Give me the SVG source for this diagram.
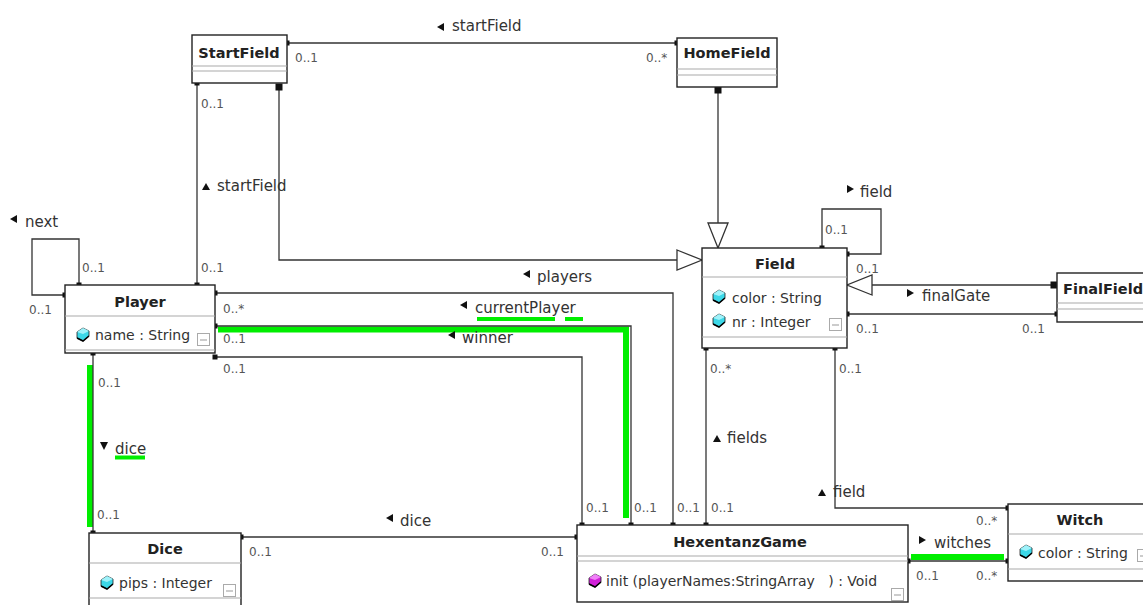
<svg xmlns="http://www.w3.org/2000/svg" xmlns:xlink="http://www.w3.org/1999/xlink" width="1143" height="605" viewBox="0 0 1143 605">
<style>
.box{fill:#fff;stroke:#222;stroke-width:1.4}
.sep{stroke:#aaa;stroke-width:1.2}
.title{font-family:"DejaVu Sans",sans-serif;font-weight:bold;font-size:14.5px;fill:#222;text-anchor:middle}
.attr{font-family:"DejaVu Sans",sans-serif;font-size:14px;fill:#333;white-space:pre}
.mult{font-family:"DejaVu Sans",sans-serif;font-size:12px;fill:#555}
.lbl{font-family:"DejaVu Sans",sans-serif;font-size:15px;fill:#333}
.line{fill:none;stroke:#333;stroke-width:1.3}
.hl{fill:none;stroke:#00ee00;stroke-width:6}
.ul{fill:none;stroke:#00ee00;stroke-width:4}
.ar{fill:#111}
.col{fill:#fff;stroke:#aaa;stroke-width:1}
</style>
<defs>
<marker id="dot" markerUnits="userSpaceOnUse" markerWidth="6" markerHeight="6" refX="3" refY="3"><rect x="0.5" y="0.5" width="5" height="5" fill="#111"/></marker>
<marker id="sq" markerUnits="userSpaceOnUse" markerWidth="8" markerHeight="8" refX="4" refY="4"><rect x="0.5" y="0.5" width="7" height="7" fill="#111"/></marker>
<marker id="tri" markerUnits="userSpaceOnUse" markerWidth="28" markerHeight="22" refX="26" refY="11" orient="auto"><path d="M1,1 L26,11 L1,21 Z" fill="#fff" stroke="#333" stroke-width="1.3"/></marker>
<g id="icA"><polygon points="6,0 12,3 12,8 6,13 0,10 0,4" fill="#3cd8e8" stroke="#222" stroke-width="0.8"/><polygon points="6,0 12,3 6,6 0,4" fill="#9ff2fa"/><polyline points="0,10 6,13 12,8" fill="none" stroke="#000" stroke-width="1.6"/></g>
<g id="icO"><polygon points="6,0 12,3 12,8 6,13 0,10 0,4" fill="#d020d8" stroke="#222" stroke-width="0.8"/><polygon points="6,0 12,3 6,6 0,4" fill="#f080f8"/><polyline points="0,10 6,13 12,8" fill="none" stroke="#000" stroke-width="1.6"/></g>
<g id="icC"><rect x="0.5" y="0.5" width="12" height="12" class="col"/><line x1="3" y1="7" x2="10" y2="7" stroke="#999" stroke-width="1"/></g>
</defs>
<rect width="1143" height="605" fill="#fff"/>

<g id="highlights">
<polyline class="hl" points="218,329.5 626,329.5 626,518"/>
<line class="hl" x1="90" y1="365" x2="90" y2="527"/>
<line class="hl" x1="911" y1="557" x2="1004" y2="557"/>
<line class="ul" x1="477" y1="319" x2="555" y2="319"/>
<line class="ul" x1="565" y1="319" x2="583" y2="319"/>
<line class="ul" x1="115" y1="457.5" x2="145" y2="457.5"/>
</g>

<g id="connectors">
<path class="line" d="M287,43 H677" marker-start="url(#dot)" marker-end="url(#dot)"/>
<path class="line" d="M197,83 V285" marker-start="url(#dot)" marker-end="url(#dot)"/>
<path class="line" d="M279,87 V260 H702" marker-start="url(#sq)" marker-end="url(#tri)"/>
<path class="line" d="M718,90 V248" marker-start="url(#sq)" marker-end="url(#tri)"/>
<path class="line" d="M822,248 V209 H881 V254 H847" marker-start="url(#dot)" marker-end="url(#dot)"/>
<path class="line" d="M1054,285 H847" marker-start="url(#sq)" marker-end="url(#tri)"/>
<path class="line" d="M847,314 H1057" marker-start="url(#dot)" marker-end="url(#dot)"/>
<path class="line" d="M79,285 V239 H32 V295 H65" marker-start="url(#dot)" marker-end="url(#dot)"/>
<path class="line" d="M215,293 H673 V525" marker-start="url(#dot)" marker-end="url(#dot)"/>
<path class="line" d="M215,326 H631 V525" marker-start="url(#dot)" marker-end="url(#dot)"/>
<path class="line" d="M215,357 H582 V525" marker-start="url(#dot)" marker-end="url(#dot)"/>
<path class="line" d="M93,353 V533" marker-start="url(#dot)" marker-end="url(#dot)"/>
<path class="line" d="M241,537 H577" marker-start="url(#dot)" marker-end="url(#dot)"/>
<path class="line" d="M706,348 V525" marker-start="url(#dot)" marker-end="url(#dot)"/>
<path class="line" d="M835,348 V508 H1008" marker-start="url(#dot)" marker-end="url(#dot)"/>
<path class="line" d="M908,561 H1008" marker-start="url(#dot)" marker-end="url(#dot)"/>
</g>

<g id="labels">
<polygon class="ar" points="437,27 444,23 444,31"/><text class="lbl" x="452" y="31">startField</text>
<polygon class="ar" points="206,183 202,190 210,190"/><text class="lbl" x="217" y="191">startField</text>
<polygon class="ar" points="10,219 17,215 17,223"/><text class="lbl" x="25" y="227">next</text>
<polygon class="ar" points="523,274 530,270 530,278"/><text class="lbl" x="537" y="282">players</text>
<polygon class="ar" points="460,305 467,301 467,309"/><text class="lbl" x="475" y="313">currentPlayer</text>
<polygon class="ar" points="448,335 455,331 455,339"/><text class="lbl" x="462" y="343">winner</text>
<polygon class="ar" points="104,450 100,442 108,442"/><text class="lbl" x="115" y="454">dice</text>
<polygon class="ar" points="386,518 393,514 393,522"/><text class="lbl" x="400" y="526">dice</text>
<polygon class="ar" points="854,189 847,185 847,193"/><text class="lbl" x="860" y="197">field</text>
<polygon class="ar" points="914,293 907,289 907,297"/><text class="lbl" x="922" y="301">finalGate</text>
<polygon class="ar" points="717,435 713,442 721,442"/><text class="lbl" x="727" y="443">fields</text>
<polygon class="ar" points="822,489 818,496 826,496"/><text class="lbl" x="833" y="497">field</text>
<polygon class="ar" points="926,540 919,536 919,544"/><text class="lbl" x="934" y="548">witches</text>

<text class="mult" x="295" y="62">0..1</text>
<text class="mult" x="646" y="62">0..*</text>
<text class="mult" x="201" y="108">0..1</text>
<text class="mult" x="201" y="272">0..1</text>
<text class="mult" x="82" y="272">0..1</text>
<text class="mult" x="29" y="314">0..1</text>
<text class="mult" x="223" y="313">0..*</text>
<text class="mult" x="223" y="343">0..1</text>
<text class="mult" x="223" y="373">0..1</text>
<text class="mult" x="98" y="387">0..1</text>
<text class="mult" x="97" y="519">0..1</text>
<text class="mult" x="249" y="556">0..1</text>
<text class="mult" x="541" y="556">0..1</text>
<text class="mult" x="586" y="512">0..1</text>
<text class="mult" x="634" y="512">0..1</text>
<text class="mult" x="677" y="512">0..1</text>
<text class="mult" x="711" y="512">0..1</text>
<text class="mult" x="710" y="373">0..*</text>
<text class="mult" x="839" y="373">0..1</text>
<text class="mult" x="825" y="234">0..1</text>
<text class="mult" x="856" y="273">0..1</text>
<text class="mult" x="856" y="333">0..1</text>
<text class="mult" x="1022" y="333">0..1</text>
<text class="mult" x="976" y="525">0..*</text>
<text class="mult" x="916" y="580">0..1</text>
<text class="mult" x="976" y="580">0..*</text>
</g>

<g id="StartField">
<rect class="box" x="192" y="35" width="95" height="48"/>
<line class="sep" x1="192" y1="66" x2="287" y2="66"/>
<line class="sep" x1="192" y1="71" x2="287" y2="71"/>
<text class="title" x="239" y="58">StartField</text>
</g>

<g id="HomeField">
<rect class="box" x="677" y="38" width="100" height="49"/>
<line class="sep" x1="677" y1="69" x2="777" y2="69"/>
<line class="sep" x1="677" y1="75" x2="777" y2="75"/>
<text class="title" x="727" y="58">HomeField</text>
</g>

<g id="Field">
<rect class="box" x="702" y="248" width="145" height="100"/>
<line class="sep" x1="702" y1="277" x2="847" y2="277"/>
<line class="sep" x1="702" y1="337" x2="847" y2="337"/>
<text class="title" x="775" y="269">Field</text>
<use href="#icA" x="713" y="290"/>
<text class="attr" x="732" y="303">color : String</text>
<use href="#icA" x="713" y="314"/>
<text class="attr" x="732" y="327">nr : Integer</text>
<use href="#icC" x="829" y="318"/>
</g>

<g id="FinalField">
<rect class="box" x="1057" y="273" width="110" height="49"/>
<line class="sep" x1="1057" y1="303" x2="1167" y2="303"/>
<line class="sep" x1="1057" y1="309" x2="1167" y2="309"/>
<text class="title" x="1063" y="294" style="text-anchor:start">FinalField</text>
</g>

<g id="Player">
<rect class="box" x="65" y="285" width="150" height="68"/>
<line class="sep" x1="65" y1="316" x2="215" y2="316"/>
<line class="sep" x1="65" y1="350" x2="215" y2="350"/>
<text class="title" x="140" y="307">Player</text>
<use href="#icA" x="77" y="328"/>
<text class="attr" x="95" y="340">name : String</text>
<use href="#icC" x="197" y="333"/>
</g>

<g id="Dice">
<rect class="box" x="89" y="533" width="152" height="80"/>
<line class="sep" x1="89" y1="563" x2="241" y2="563"/>
<line class="sep" x1="89" y1="598" x2="241" y2="598"/>
<text class="title" x="165" y="554">Dice</text>
<use href="#icA" x="101" y="576"/>
<text class="attr" x="119" y="588">pips : Integer</text>
<use href="#icC" x="223" y="584"/>
</g>

<g id="HexentanzGame">
<rect class="box" x="577" y="525" width="331" height="77"/>
<line class="sep" x1="577" y1="556" x2="908" y2="556"/>
<line class="sep" x1="577" y1="561" x2="908" y2="561"/>
<text class="title" x="740" y="547">HexentanzGame</text>
<use href="#icO" x="589" y="574"/>
<text class="attr" x="606" y="586" xml:space="preserve">init (playerNames:StringArray   ) : Void</text>
<use href="#icC" x="891" y="588"/>
</g>

<g id="Witch">
<rect class="box" x="1008" y="504" width="150" height="77"/>
<line class="sep" x1="1008" y1="534" x2="1158" y2="534"/>
<line class="sep" x1="1008" y1="569" x2="1158" y2="569"/>
<text class="title" x="1080" y="525">Witch</text>
<use href="#icA" x="1020" y="545"/>
<text class="attr" x="1038" y="558">color : String</text>
<use href="#icC" x="1137" y="549"/>
</g>
</svg>
